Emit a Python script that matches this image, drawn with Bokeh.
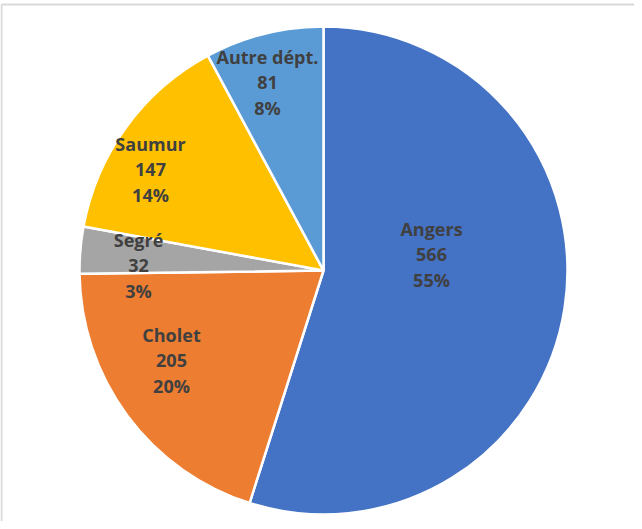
import math
from bokeh.plotting import figure
from bokeh.models import ColumnDataSource, Range1d
from bokeh.embed import file_html
from bokeh.resources import INLINE
from bokeh.core.properties import value

# data
categories = ["Angers", "Cholet", "Segré", "Saumur", "Autre dépt."]
counts = [566, 205, 32, 147, 81]
colors = ["#4472C4", "#ED7D31", "#A5A5A5", "#FFC000", "#5B9BD5"]

# label anchor positions (screen pixels of the middle line)
label_pos = [(439, 262), (179, 368), (146, 273), (158, 177), (275, 90)]

W, H = 634, 521
def dx(sx):
    return sx - 8
def dy(sy):
    return 529 - sy

cx, cy, R = dx(331), dy(278), 244

total = sum(counts)
starts, ends = [], []
cum = 0.0
for v in counts:
    starts.append(math.pi / 2 - 2 * math.pi * cum / total)
    cum += v
    ends.append(math.pi / 2 - 2 * math.pi * cum / total)

src = ColumnDataSource(dict(cat=categories, val=counts, color=colors,
                            start=starts, end=ends,
                            x=[cx] * len(counts), y=[cy] * len(counts)))

p = figure(width=W, height=H, output_backend="svg", toolbar_location=None,
           x_range=Range1d(0, W), y_range=Range1d(0, H),
           x_axis_type=None, y_axis_type=None, min_border=0,
           outline_line_color=None)
p.grid.visible = False

# chart frame (top and left edges visible)
p.segment(x0=[1, 1], y0=[dy(12), dy(12)], x1=[W, 1], y1=[dy(12), 0],
          line_color="#D9D9D9", line_width=2)

p.wedge(x="x", y="y", radius=R, start_angle="start", end_angle="end",
        direction="clock", fill_color="color", line_color="white",
        line_width=2.5, source=src)

labels = [f"{c}\n{v}\n{round(v / total * 100)}%" for c, v in zip(categories, counts)]
lsrc = ColumnDataSource(dict(x=[dx(p_[0]) for p_ in label_pos],
                             y=[dy(p_[1]) for p_ in label_pos],
                             t=labels))
p.text(x="x", y="y", text="t", source=lsrc, text_align="center",
       text_baseline="middle", text_font=value("Open Sans"),
       text_font_style="bold", text_font_size="18px", text_color="#404040",
       text_line_height=1.06)

open("out.html", "w").write(file_html(p, INLINE))
